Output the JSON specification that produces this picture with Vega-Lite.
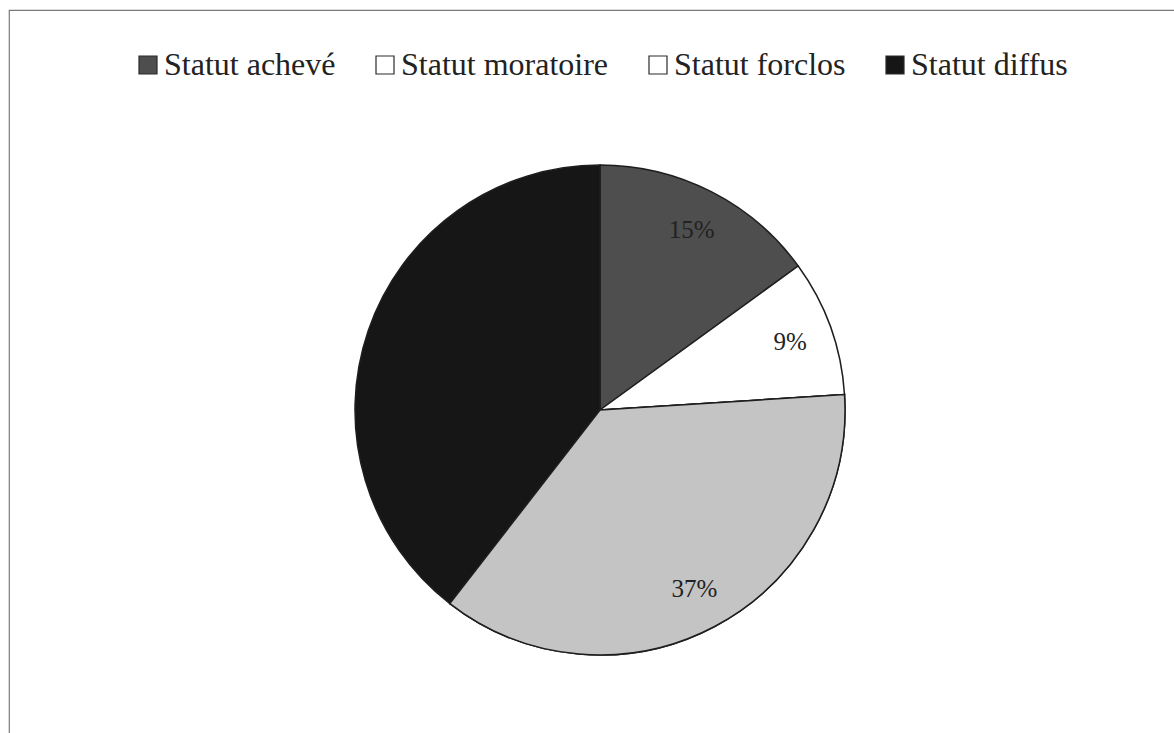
{
  "$schema": "https://vega.github.io/schema/vega-lite/v6.json",
  "width": 1182,
  "height": 800,
  "autosize": {"type": "none"},
  "padding": {"left": 9, "top": 10, "right": -17, "bottom": -77},
  "background": "#ffffff",
  "view": {"stroke": "#7a7a7a", "strokeWidth": 1.2, "fill": "#ffffff"},
  "config": {
    "view": {"stroke": "#7a7a7a", "strokeWidth": 1.2},
    "font": "Liberation Serif"
  },
  "data": {
    "values": [
      {"statut": "Statut achevé", "part": 15, "ordre": 1, "label": "15%"},
      {"statut": "Statut moratoire", "part": 9, "ordre": 2, "label": "9%"},
      {"statut": "Statut forclos", "part": 36.5, "ordre": 3, "label": "37%"},
      {"statut": "Statut diffus", "part": 39.5, "ordre": 4, "label": ""}
    ]
  },
  "layer": [
    {
      "mark": {"type": "arc", "outerRadius": 245, "stroke": "#1e1e1e", "strokeWidth": 1.5},
      "encoding": {
        "theta": {"field": "part", "type": "quantitative", "stack": true},
        "order": {"field": "ordre", "type": "quantitative"},
        "fill": {
          "field": "statut",
          "type": "nominal",
          "sort": ["Statut achevé", "Statut moratoire", "Statut forclos", "Statut diffus"],
          "scale": {
            "domain": ["Statut achevé", "Statut moratoire", "Statut forclos", "Statut diffus"],
            "range": ["#4e4e4e", "#ffffff", "#ffffff", "#161616"]
          },
          "legend": {
            "orient": "none",
            "direction": "horizontal",
            "legendX": 123,
            "legendY": 39,
            "title": null,
            "padding": 0,
            "symbolType": "square",
            "symbolSize": 324,
            "symbolStrokeColor": "#2a2a2a",
            "symbolStrokeWidth": 1.2,
            "symbolOpacity": 1,
            "labelFont": "Liberation Serif",
            "labelFontSize": 32,
            "labelColor": "#222222",
            "labelOffset": 0,
            "labelLimit": 400,
            "columnPadding": 33
          }
        }
      }
    },
    {
      "mark": {"type": "arc", "outerRadius": 245, "stroke": "#1e1e1e", "strokeWidth": 1.5, "fill": "#c4c4c4"},
      "encoding": {
        "theta": {"field": "part", "type": "quantitative", "stack": true},
        "order": {"field": "ordre", "type": "quantitative"},
        "opacity": {
          "condition": {"test": "datum.statut === 'Statut forclos'", "value": 1},
          "value": 0
        }
      }
    },
    {
      "mark": {"type": "text", "radius": 202, "font": "Liberation Serif", "fontSize": 25, "color": "#222222"},
      "encoding": {
        "theta": {"field": "part", "type": "quantitative", "stack": true},
        "order": {"field": "ordre", "type": "quantitative"},
        "text": {"field": "label", "type": "nominal"}
      }
    }
  ]
}
